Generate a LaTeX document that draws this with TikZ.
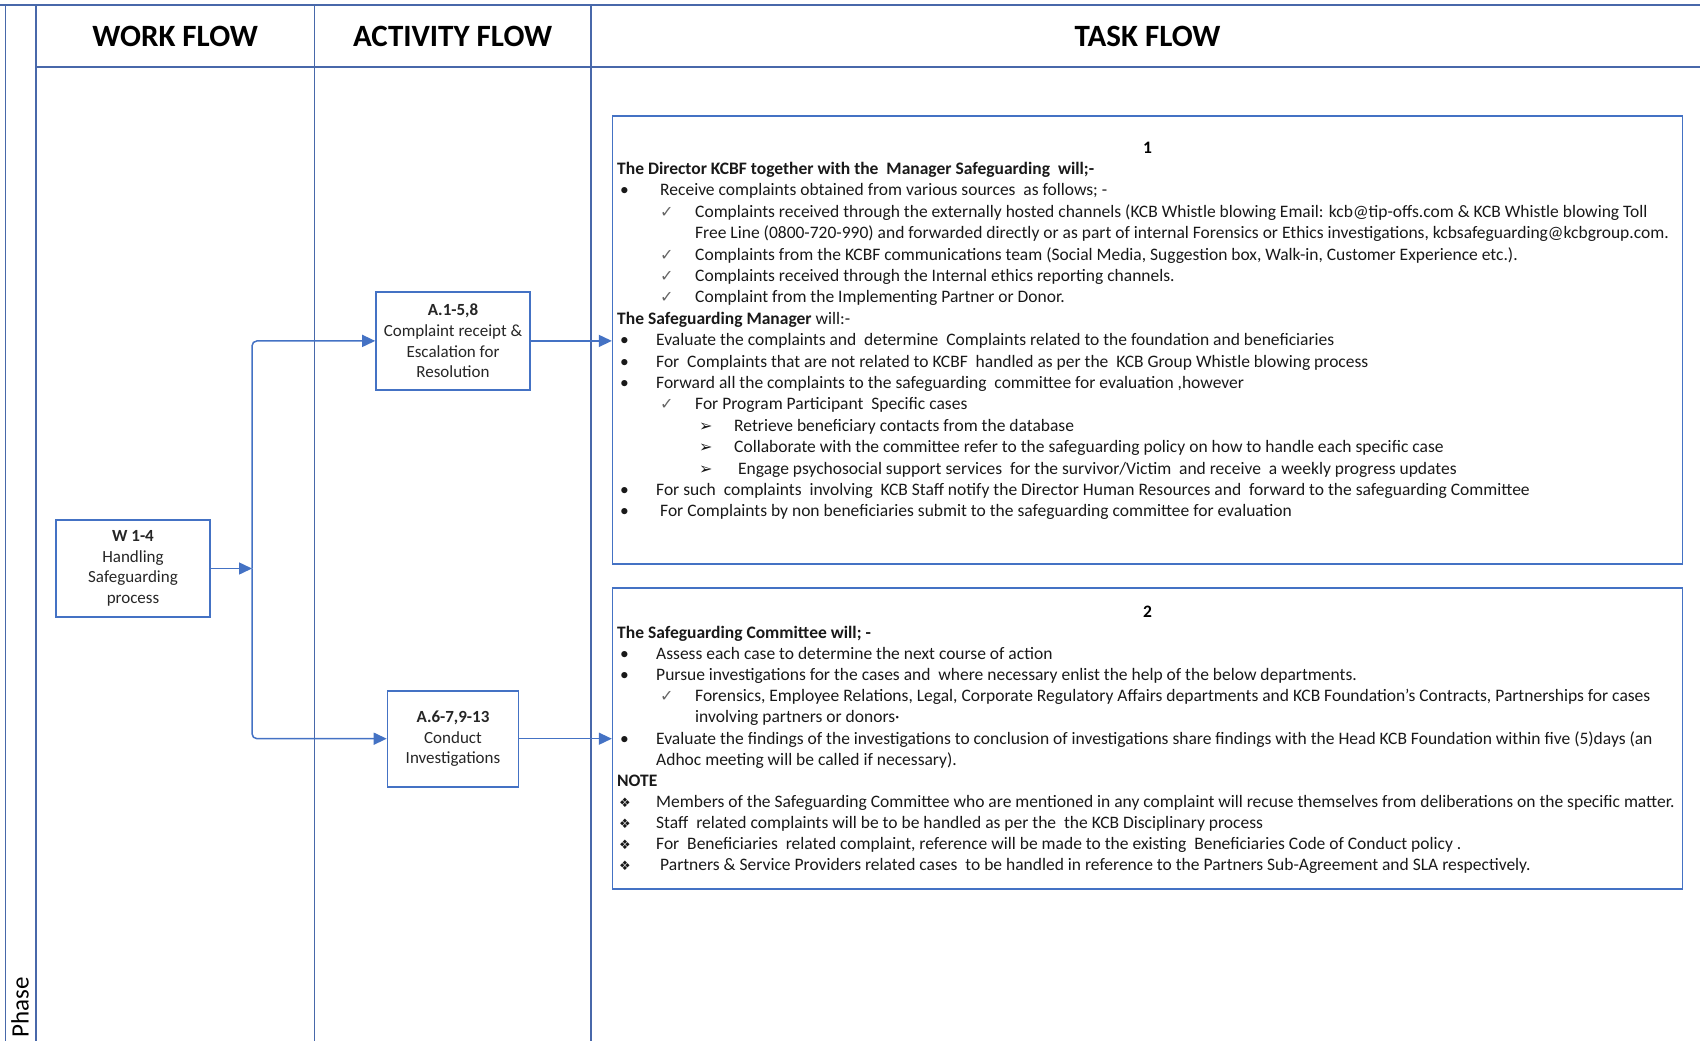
\documentclass[tikz,border=0pt]{standalone}
\usepackage{fontspec}
\setmainfont{Carlito}
\newfontfamily\symfont{DejaVu Sans}
\usepackage{tikz}
\usetikzlibrary{positioning,arrows.meta,calc}
\definecolor{flowblue}{RGB}{68,114,196}
\definecolor{gridblue}{RGB}{72,104,170}
\definecolor{tickgray}{RGB}{100,100,100}
\newcommand{\bulletline}[1]{\hspace*{3pt}\makebox[36pt][l]{•}#1}
\newcommand{\tickline}[1]{\hspace*{43pt}\makebox[35pt][l]{\color{tickgray}\symfont\fontsize{16}{16}\selectfont ✓}#1}
\newcommand{\arrowline}[1]{\hspace*{82pt}\makebox[35pt][l]{\symfont\fontsize{16}{16}\selectfont ➢}#1}
\newcommand{\noteline}[1]{\hspace*{2pt}\makebox[37pt][l]{\symfont\fontsize{13}{13}\selectfont ❖}#1}

\begin{document}
\begin{tikzpicture}[x=1pt,y=-1pt,font={\fontsize{17}{20.6}\selectfont},
  box/.style={draw=flowblue,line width=1.6pt,fill=white,align=center,text=black!85,inner sep=2pt},
  taskbox/.style={draw=flowblue,line width=1.6pt,inner sep=0pt},
  head/.style={font={\fontsize{31}{36}\selectfont\bfseries}},
  grid/.style={draw=gridblue,line width=1.8pt},
  flow/.style={draw=flowblue,line width=1.5pt,-{Triangle[length=13pt,width=12pt]}},
  tasktext/.style={anchor=base west,inner sep=0pt,text=black!90}]
\useasboundingbox (0,0) rectangle (1700,1041);

% table grid
\draw[grid] (0,5.4) -- (1700,5.4);
\draw[grid] (5.4,5.4) -- (5.4,1041);
\draw[grid] (36,5.4) -- (36,1041);
\draw[grid] (314.4,5.4) -- (314.4,1041);
\draw[grid] (590.9,5.4) -- (590.9,1041);
\draw[grid] (36,67.2) -- (1700,67.2);

% headers
\node[head] (hwork) at (175.2,36.3) {WORK FLOW};
\node[head] (hact) at (452.6,36.3) {ACTIVITY FLOW};
\node[head] (htask) at (1147.6,36.3) {TASK FLOW};
\node[rotate=90,font={\fontsize{25}{30}\selectfont}] (phase) at (20,1007) {Phase};

% work and activity boxes
\node[box,minimum width=154pt,minimum height=97pt] (wf) at (133,568.5) {\textbf{W 1-4}\\Handling\\Safeguarding\\process};
\node[box,minimum width=154pt,minimum height=98pt] (a1) at (453,340.9) {\textbf{A.1-5,8}\\Complaint receipt \&\\Escalation for\\Resolution};
\node[box,minimum width=131pt,minimum height=96pt] (a2) at (453,738.7) {\textbf{A.6-7,9-13}\\Conduct\\Investigations};

% task boxes
\node[taskbox,minimum width=1070pt,minimum height=448pt] (task1) at (1147.6,339.9) {};
\node[taskbox,minimum width=1070pt,minimum height=301pt] (task2) at (1147.6,738.3) {};
\node[anchor=base,font={\fontsize{17.5}{20}\selectfont\bfseries}] (num1) at (1147.6,153.5) {1};
\node[anchor=base,font={\fontsize{17.5}{20}\selectfont\bfseries}] (num2) at (1147.6,617.6) {2};

\node[tasktext] (body1) at (617,174.5) {\parbox[t]{1100pt}{\fontsize{17.5}{21.4}\selectfont
\textbf{The Director KCBF together with the\ \ Manager Safeguarding\ \ will;-}\\
\bulletline{\hspace{4pt}Receive complaints obtained from various sources\ \ as follows; -}\\
\tickline{Complaints received through the externally hosted channels (KCB Whistle blowing Email: kcb@tip-offs.com \& KCB Whistle blowing Toll}\\
\hspace*{78pt}Free Line (0800-720-990) and forwarded directly or as part of internal Forensics or Ethics investigations, kcbsafeguarding@kcbgroup.com.\\
\tickline{Complaints from the KCBF communications team (Social Media, Suggestion box, Walk-in, Customer Experience etc.).}\\
\tickline{Complaints received through the Internal ethics reporting channels.}\\
\tickline{Complaint from the Implementing Partner or Donor.}\\
\textbf{The Safeguarding Manager} will:-\\
\bulletline{Evaluate the complaints and\ \ determine\ \ Complaints related to the foundation and beneficiaries}\\
\bulletline{For\ \ Complaints that are not related to KCBF\ \ handled as per the\ \ KCB Group Whistle blowing process}\\
\bulletline{Forward all the complaints to the safeguarding\ \ committee for evaluation ,however}\\
\tickline{For Program Participant\ \ Specific cases}\\
\arrowline{Retrieve beneficiary contacts from the database}\\
\arrowline{Collaborate with the committee refer to the safeguarding policy on how to handle each specific case}\\
\arrowline{\hspace{4pt}Engage psychosocial support services\ \ for the survivor/Victim\ \ and receive\ \ a weekly progress updates}\\
\bulletline{For such\ \ complaints\ \ involving\ \ KCB Staff notify the Director Human Resources and\ \ forward to the safeguarding Committee}\\
\bulletline{\hspace{4pt}For Complaints by non beneficiaries submit to the safeguarding committee for evaluation}}};

\node[tasktext] (body2) at (617,638.5) {\parbox[t]{1100pt}{\fontsize{17.5}{21.1}\selectfont
\textbf{The Safeguarding Committee will; -}\\
\bulletline{Assess each case to determine the next course of action}\\
\bulletline{Pursue investigations for the cases and\ \ where necessary enlist the help of the below departments.}\\
\tickline{Forensics, Employee Relations, Legal, Corporate Regulatory Affairs departments and KCB Foundation’s Contracts, Partnerships for cases}\\
\hspace*{78pt}involving partners or donors·\\
\bulletline{Evaluate the findings of the investigations to conclusion of investigations share findings with the Head KCB Foundation within five (5)days (an}\\
\hspace*{39pt}Adhoc meeting will be called if necessary).\\
\textbf{NOTE}\\
\noteline{Members of the Safeguarding Committee who are mentioned in any complaint will recuse themselves from deliberations on the specific matter.}\\
\noteline{Staff\ \ related complaints will be to be handled as per the\ \ the KCB Disciplinary process}\\
\noteline{For\ \ Beneficiaries\ \ related complaint, reference will be made to the existing\ \ Beneficiaries Code of Conduct policy .}\\
\noteline{\hspace{4pt}Partners \& Service Providers related cases\ \ to be handled in reference to the Partners Sub-Agreement and SLA respectively.}}};

% connectors
\coordinate (split) at (252,568.5);
\draw[flow] (wf.east) -- (split);
\draw[flow,rounded corners=5pt] (split) |- (a1.west);
\draw[flow,rounded corners=5pt] (split) |- (a2.west);
\draw[flow] (a1.east) -- (a1.east -| task1.west);
\draw[flow] (a2.east) -- (a2.east -| task2.west);
\end{tikzpicture}
\end{document}
